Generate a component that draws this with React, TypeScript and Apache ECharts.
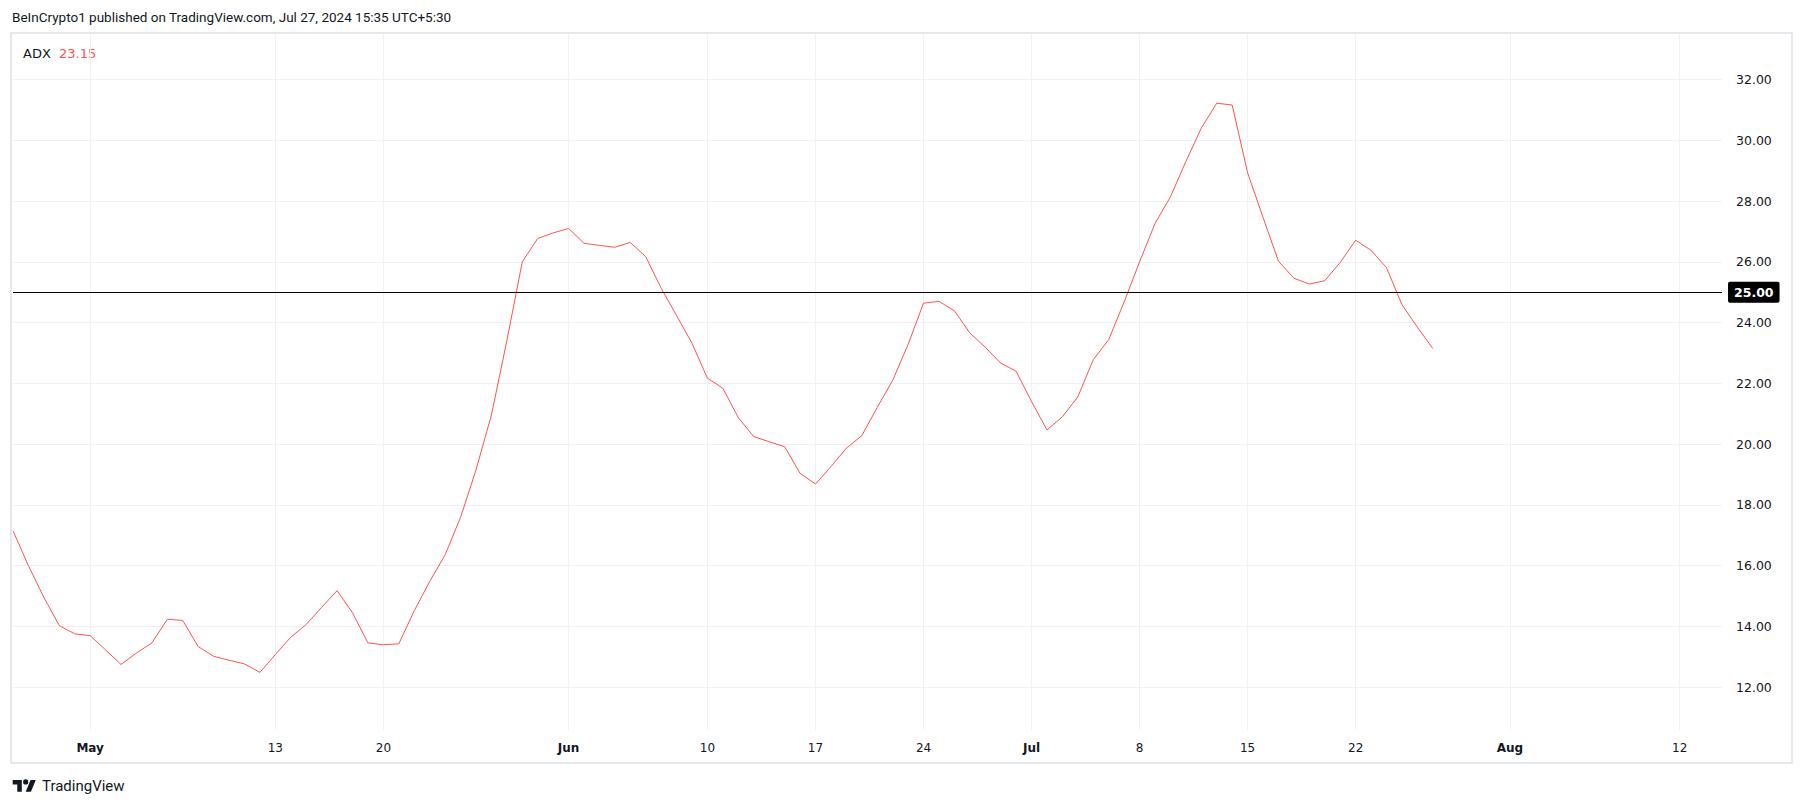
import React, { useEffect, useRef } from 'react';
import * as echarts from 'echarts';

const headerText = 'BeInCrypto1 published on TradingView.com, Jul 27, 2024 15:35 UTC+5:30';
const indicatorName = 'ADX';
const brandName = 'TradingView';
const startDate = '2024-04-26';
const adx = [
  17.15, 16.0, 14.96, 14.03, 13.76,
  13.7, 13.23, 12.75, 13.13, 13.46, 14.24, 14.2, 13.34, 13.02, 12.89, 12.77, 12.49,
  13.08, 13.65, 14.07, 14.63, 15.18, 14.45, 13.46, 13.4, 13.43, 14.52, 15.48, 16.36,
  17.59, 19.15, 20.96, 23.4, 26.0, 26.77, 26.95,
  27.1, 26.61, 26.54, 26.48, 26.64, 26.17, 25.13, 24.23, 23.32, 22.17, 21.84, 20.87,
  20.25, 20.08, 19.92, 19.04, 18.69, 19.26, 19.87, 20.28, 21.21, 22.1, 23.28, 24.64,
  24.7, 24.39, 23.66, 23.19, 22.67, 22.4,
  21.4, 20.47, 20.9, 21.56, 22.78, 23.44, 24.68, 26.0, 27.26, 28.14, 29.3, 30.4,
  31.22, 31.16, 28.93, 27.46, 26.02, 25.46, 25.27, 25.38, 25.98, 26.71, 26.38, 25.81,
  24.59, 23.85, 23.15,
];
const tickDates = [
  '2024-05-01', '2024-05-13', '2024-05-20', '2024-06-01', '2024-06-10', '2024-06-17',
  '2024-06-24', '2024-07-01', '2024-07-08', '2024-07-15', '2024-07-22', '2024-08-01', '2024-08-12',
];
const tickLabels = ['May', '13', '20', 'Jun', '10', '17', '24', 'Jul', '8', '15', '22', 'Aug', '12'];
const monthLabels = ['May', 'Jun', 'Jul', 'Aug'];
const priceTicks = [12, 14, 16, 18, 20, 22, 24, 26, 28, 30, 32];
const threshold = 25;

const DAY = 86400000;
const FONT = 'DejaVu Sans';
const HEADER_FONT = 'Roboto';
const LOGO_D = 'M14 22H7V11H0V4h14v18zM28 22h-8l7.5-18h8L28 22zM24 7a4 4 0 1 1-8 0a4 4 0 1 1 8 0z';

let logoRegistered = false;

export default function App() {
  const ref = useRef<HTMLDivElement>(null);
  useEffect(() => {
    if (!ref.current) return;
    if (!logoRegistered) {
      echarts.graphic.registerShape('logo', echarts.graphic.extendPath(LOGO_D, {}));
      logoRegistered = true;
    }
    const chart = echarts.init(ref.current, null, { renderer: 'svg' });
    const start = Date.parse(startDate);
    const data = adx.map((v, i) => [start + i * DAY, v]);
    const tickTs = tickDates.map((d) => Date.parse(d));
    const labelOf = (v: number) => {
      const idx = tickTs.findIndex((t) => Math.abs(t - v) < DAY / 2);
      return idx >= 0 ? tickLabels[idx] : '';
    };
    const last = adx[adx.length - 1];
    chart.setOption({
      animation: false,
      backgroundColor: '#ffffff',
      grid: { left: 13, top: 34, right: 83, bottom: 78, containLabel: false },
      xAxis: {
        type: 'value',
        min: start,
        max: start + 110.74 * DAY,
        axisLine: { show: false },
        axisTick: { show: false, customValues: tickTs },
        splitLine: { show: true, lineStyle: { color: '#f0f1f4', width: 1 } },
        axisLabel: {
          customValues: tickTs,
          margin: 12,
          fontFamily: FONT,
          fontSize: 12,
          color: '#131722',
          formatter: (v: number) => {
            const l = labelOf(v);
            return monthLabels.includes(l) ? `{b|${l}}` : l;
          },
          rich: { b: { fontWeight: 'bold', fontFamily: FONT, fontSize: 12, color: '#131722' } },
        },
      },
      yAxis: {
        type: 'value',
        position: 'right',
        min: 10.595,
        max: 33.497,
        axisLine: { show: false },
        axisTick: { show: false, customValues: priceTicks },
        splitLine: { show: true, lineStyle: { color: '#f0f1f4', width: 1 } },
        axisLabel: {
          customValues: priceTicks,
          margin: 14,
          align: 'left',
          fontFamily: FONT,
          fontSize: 12.5,
          color: '#131722',
          formatter: (v: number) => v.toFixed(2),
        },
      },
      series: [
        {
          type: 'line',
          data,
          showSymbol: false,
          symbol: 'none',
          lineStyle: { color: '#ff5252', width: 1 },
          markLine: {
            silent: true,
            symbol: 'none',
            data: [{ yAxis: threshold }],
            lineStyle: { color: '#000000', width: 1, type: 'solid' },
            label: {
              show: true,
              position: 'end',
              distance: 6,
              formatter: threshold.toFixed(2),
              backgroundColor: '#000000',
              color: '#ffffff',
              fontFamily: FONT,
              fontSize: 12.5,
              fontWeight: 'bold',
              padding: [4, 6, 4, 6],
              borderRadius: 2,
            },
          },
        },
      ],
      graphic: [
        {
          type: 'rect',
          shape: { x: 11, y: 33, width: 1781, height: 730 },
          style: { fill: 'none', stroke: '#e6e8ee', lineWidth: 2 },
          silent: true,
        },
        {
          type: 'text',
          x: 12,
          y: 17,
          style: { text: headerText, fontFamily: HEADER_FONT, fontSize: 13.5, fill: '#131722', verticalAlign: 'middle' },
        },
        {
          type: 'text',
          x: 23,
          y: 53,
          style: { text: indicatorName, fontFamily: FONT, fontSize: 13, fill: '#131722', verticalAlign: 'middle' },
        },
        {
          type: 'text',
          x: 59,
          y: 53,
          style: { text: last.toFixed(2), fontFamily: FONT, fontSize: 13, fill: '#ff5252', verticalAlign: 'middle' },
        },
        {
          type: 'logo',
          x: 12.7,
          y: 777.4,
          scaleX: 0.65,
          scaleY: 0.65,
          style: { fill: '#131722' },
        },
        {
          type: 'text',
          x: 42,
          y: 786,
          style: { text: brandName, fontFamily: HEADER_FONT, fontSize: 15, fill: '#131722', verticalAlign: 'middle' },
        },
      ],
    });
    return () => chart.dispose();
  }, []);
  return (
    <div
      ref={ref}
      style={{ position: 'fixed', left: 0, top: 0, width: 1805, height: 808, background: '#fff' }}
    />
  );
}
